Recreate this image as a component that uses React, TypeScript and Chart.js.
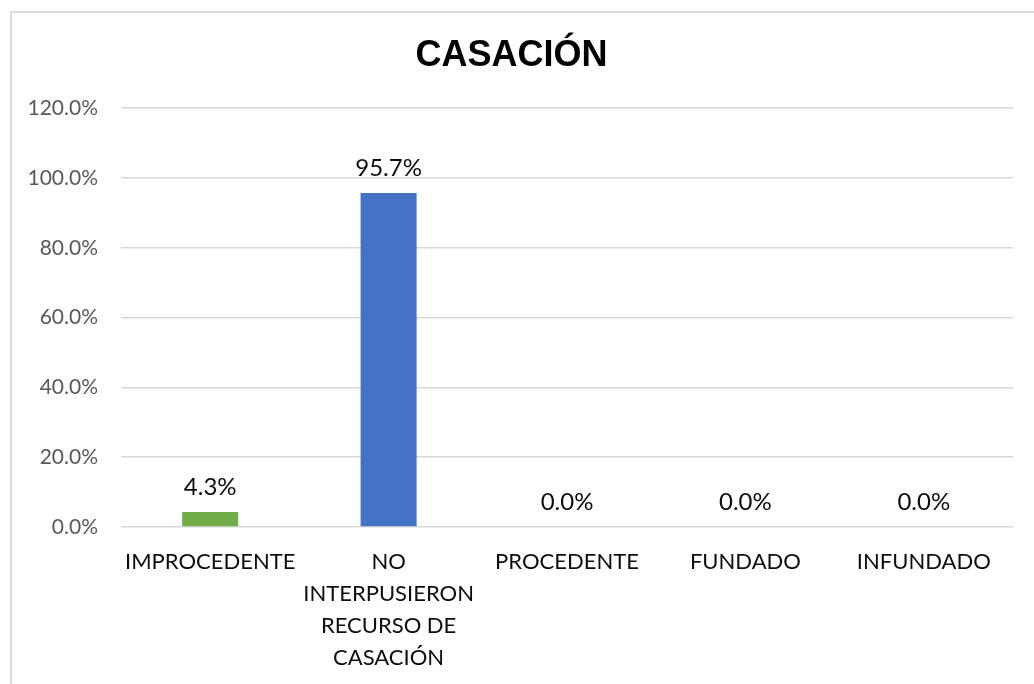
import React, { useEffect, useRef } from "react";
import { Chart, registerables } from "chart.js";

Chart.register(...registerables);

const categories: (string | string[])[] = [
  "IMPROCEDENTE",
  ["NO", "INTERPUSIERON", "RECURSO DE", "CASACIÓN"],
  "PROCEDENTE",
  "FUNDADO",
  "INFUNDADO",
];
const values: number[] = [4.3, 95.7, 0.0, 0.0, 0.0];
const barColors: string[] = ["#70AD47", "#4472C4", "#4472C4", "#4472C4", "#4472C4"];
const yTicks = { min: 0, max: 120, step: 20 };
const titleText = "CASACIÓN";

const CANVAS_W = 1024;
const CANVAS_H = 673;

const dataLabelPlugin = {
  id: "dataLabels",
  afterDatasetsDraw(chart: any) {
    const ctx = chart.ctx;
    const meta = chart.getDatasetMeta(0);
    ctx.save();
    ctx.font = "24px Lato";
    ctx.fillStyle = "#0d0d0d";
    ctx.textAlign = "center";
    ctx.textBaseline = "middle";
    meta.data.forEach((bar: any, i: number) => {
      const v = chart.data.datasets[0].data[i] as number;
      ctx.fillText(v.toFixed(1) + "%", bar.x, bar.y - 25);
    });
    ctx.restore();
  },
};

export default function App() {
  const ref = useRef<HTMLCanvasElement | null>(null);

  useEffect(() => {
    if (!ref.current) return;
    const chart = new Chart(ref.current, {
      type: "bar",
      data: {
        labels: categories,
        datasets: [
          {
            data: values,
            backgroundColor: barColors,
            borderWidth: 0,
            barPercentage: 0.314,
            categoryPercentage: 1,
          },
        ],
      },
      options: {
        responsive: false,
        animation: false,
        layout: { padding: { left: 0, right: 21, top: 0, bottom: 0 } },
        plugins: {
          legend: { display: false },
          tooltip: { enabled: false },
          title: {
            display: true,
            text: titleText,
            color: "#000000",
            font: { family: "'Liberation Sans', Arial, sans-serif", size: 36, weight: "bold" },
            padding: { top: 23, bottom: 31 },
          },
        },
        scales: {
          x: {
            grid: { display: false, drawTicks: false },
            border: { display: false },
            ticks: {
              color: "#0d0d0d",
              font: { family: "Lato", size: 22, lineHeight: 32 / 22 },
              padding: 19,
              maxRotation: 0,
              autoSkip: false,
            },
            afterFit(scale: any) {
              scale.height = 157;
            },
          },
          y: {
            min: yTicks.min,
            max: yTicks.max,
            grid: { color: "#d9d9d9", lineWidth: 1.5, drawTicks: false },
            border: { display: false },
            ticks: {
              stepSize: yTicks.step,
              color: "#595959",
              font: { family: "Lato", size: 21 },
              padding: 23,
              callback: (v: any) => Number(v).toFixed(1) + "%",
            },
            afterFit(scale: any) {
              scale.width = 111;
            },
          },
        },
      },
      plugins: [dataLabelPlugin],
    });
    return () => chart.destroy();
  }, []);

  return (
    <div style={{ position: "fixed", left: 0, top: 0, width: 1034, height: 684, background: "#fff", overflow: "hidden" }}>
      <div
        style={{
          position: "absolute",
          left: 10,
          top: 11,
          width: CANVAS_W + 10,
          height: CANVAS_H + 10,
          borderTop: "2px solid #dcdcdc",
          borderLeft: "2px solid #dcdcdc",
          boxSizing: "border-box",
        }}
      />
      <canvas
        ref={ref}
        width={CANVAS_W}
        height={CANVAS_H}
        style={{ position: "absolute", left: 10, top: 11, width: CANVAS_W, height: CANVAS_H }}
      />
    </div>
  );
}
